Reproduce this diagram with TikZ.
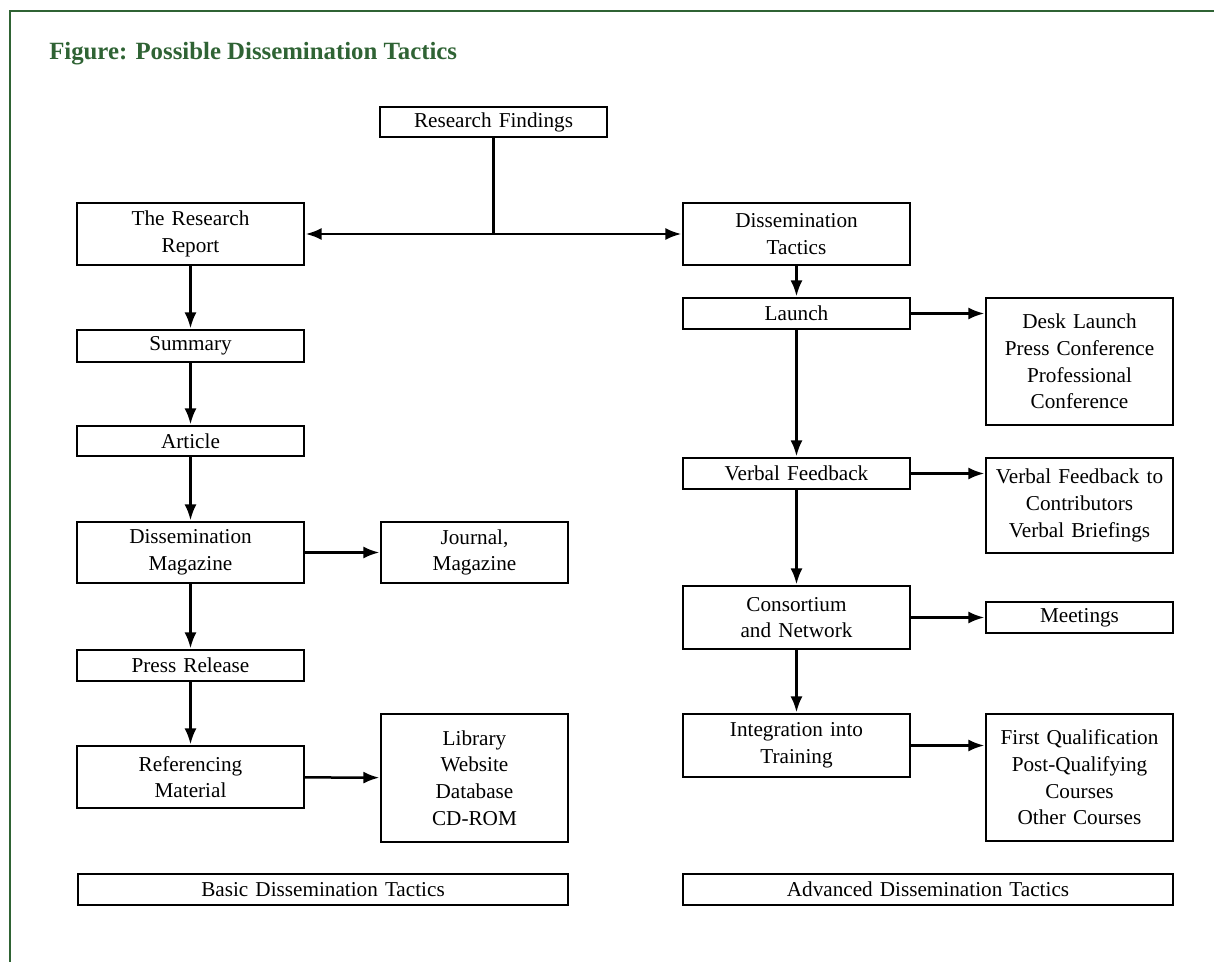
\documentclass[tikz,border=0pt]{standalone}
\usepackage{fontspec}
\setmainfont{Liberation Serif}
\usetikzlibrary{arrows.meta}
\definecolor{figgreen}{RGB}{47,99,52}

\begin{document}
\begin{tikzpicture}[x=0.5pt, y=-0.5pt, >={Latex[length=8pt,width=6pt]}, shorten >=0.5pt, line width=1.25pt,
    box/.style={draw, line width=0.65pt, inner sep=0pt, text width=113.5pt, align=center,
                font=\fontsize{10.6}{13.3}\selectfont},
    outlet/.style={box, text width=93.5pt},
    footer/.style={box, text width=245pt, minimum height=15.5pt}]
    \useasboundingbox (0,0) rectangle (1215,962);

    % Frame and title
    \draw [figgreen, line width=1pt] (10,962) -- (10,11) -- (1215,11);
    \node [anchor=base west, inner sep=0pt, text=figgreen, font=\fontsize{12.4}{15}\selectfont\bfseries]
          (title) at (48,60) {Figure: Possible Dissemination Tactics};

    % Nodes {top, left column}
    \node [box, minimum height=15pt]        (findings) at (493.5,122)  {Research Findings};
    \node [box, minimum height=31pt]        (report)   at (190.5,234)  {The Research\\ Report};
    \node [box, minimum height=16pt]        (summary)  at (190.5,346)  {Summary};
    \node [box, minimum height=15pt]        (article)  at (190.5,441)  {Article};
    \node [box, minimum height=30.5pt]      (magazine) at (190.5,552.5) {Dissemination\\ Magazine};
    \node [outlet, minimum height=30.5pt]   (journal)  at (474.5,552.5) {Journal,\\ Magazine};
    \node [box, minimum height=15.5pt]      (press)    at (190.5,665.5) {Press Release};
    \node [box, minimum height=31pt]        (refmat)   at (190.5,777)  {Referencing\\ Material};
    \node [outlet, minimum height=64pt]     (library)  at (474.5,778)  {Library\\ Website\\ Database\\ CD-ROM};

    % Nodes {right column}
    \node [box, minimum height=31pt]        (tactics)  at (796.5,234)  {Dissemination\\ Tactics};
    \node [box, minimum height=15.5pt]      (launch)   at (796.5,313.5) {Launch};
    \node [outlet, minimum height=63.5pt]   (desk)     at (1079.5,361.5) {Desk Launch\\ Press Conference\\ Professional\\ Conference};
    \node [box, minimum height=15.5pt]      (verbal)   at (796.5,473.5) {Verbal Feedback};
    \node [outlet, minimum height=47.5pt]   (briefing) at (1079.5,505.5) {Verbal Feedback to\\ Contributors\\ Verbal Briefings};
    \node [box, minimum height=31.5pt]      (network)  at (796.5,617.5) {Consortium\\ and Network};
    \node [outlet, minimum height=15.5pt]   (meetings) at (1079.5,617.5) {Meetings};
    \node [box, minimum height=31.5pt]      (training) at (796.5,745.5) {Integration into\\ Training};
    \node [outlet, minimum height=63.5pt]   (courses)  at (1079.5,777.5) {First Qualification\\ Post-Qualifying\\ Courses\\ Other Courses};

    % Nodes {footers}
    \node [footer]                          (basic)    at (323,889.5)  {Basic Dissemination Tactics};
    \node [footer]                          (advanced) at (928,889.5)  {Advanced Dissemination Tactics};

    % Paths
    \coordinate (split) at (findings |- report);
    \draw       (findings) -- (split);
    \path [->]  (split)    edge (report);
    \path [->]  (split)    edge (tactics);

    \path [->]  (report)   edge (summary);
    \path [->]  (summary)  edge (article);
    \path [->]  (article)  edge (magazine);
    \path [->]  (magazine) edge (journal);
    \path [->]  (magazine) edge (press);
    \path [->]  (press)    edge (refmat);
    \path [->]  (refmat)   edge (library);

    \path [->]  (tactics)  edge (launch);
    \path [->]  (launch)   edge (desk.west |- launch);
    \path [->]  (launch)   edge (verbal);
    \path [->]  (verbal)   edge (briefing.west |- verbal);
    \path [->]  (verbal)   edge (network);
    \path [->]  (network)  edge (meetings);
    \path [->]  (network)  edge (training);
    \path [->]  (training) edge (courses.west |- training);

\end{tikzpicture}
\end{document}
